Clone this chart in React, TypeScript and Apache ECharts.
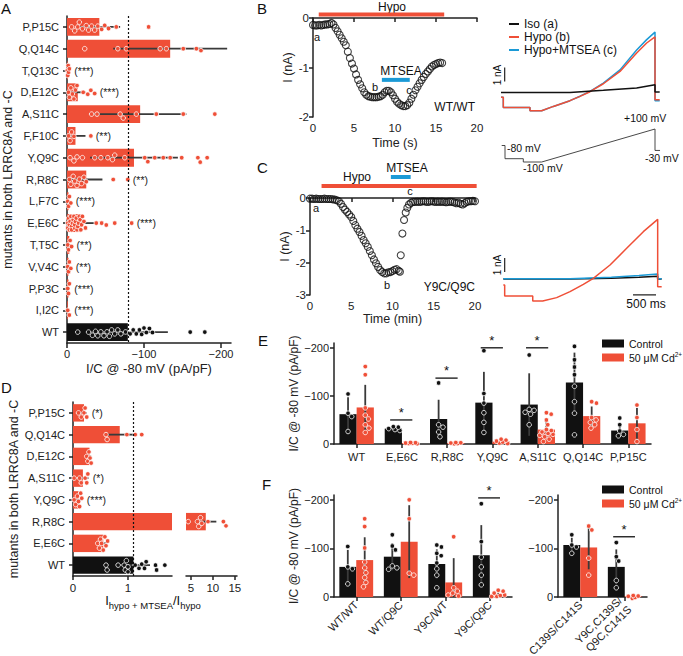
import React, { useEffect, useRef } from 'react';
import * as echarts from 'echarts';

const RED = '#ef4f37';
const BLUE = '#1b9ad6';
const BLACK = '#111111';
const AXIS = '#222222';
const ERR = '#3a3a3a';
const FONT = '"Liberation Sans", Arial, Helvetica, sans-serif';
const DOT_R = 2.3;
const DOT_D = 5;
const BAR_HALF = 0.19;

// ---------- Panel A (I/C magnitude, pA/pF) ----------
const catsA = ['P,P15C', 'Q,Q14C', 'T,Q13C', 'D,E12C', 'A,S11C', 'F,F10C', 'Y,Q9C', 'R,R8C', 'L,F7C', 'E,E6C', 'T,T5C', 'V,V4C', 'P,P3C', 'I,I2C', 'WT'];
const meanA = [42, 134, 1, 14, 95, 11, 87, 25, 2, 19, 3, 2, 2, 1, 79];
const sdA = [27, 74, 1, 10, 60, 13, 57, 21, 1, 19, 2, 1, 1, 1, 52];
const sigA = ['', '', '(***)', '(***)', '', '(**)', '', '(**)', '(***)', '(***)', '(**)', '(**)', '(***)', '(***)', ''];
const dotsA = [
  [6, 10, 14, 16, 20, 25, 28, 32, 36, 40, 45, 49, 54, 64, 106],
  [23, 66, 77, 121, 129, 151, 168, 174],
  [0.5, 1, 1.5, 2, 3],
  [2, 3, 5, 7, 9, 11, 13, 21, 27, 31, 36],
  [32, 39, 69, 73, 90, 116, 151, 192],
  [2, 4, 6, 9, 31],
  [4, 9, 13, 20, 36, 44, 53, 59, 62, 75, 101, 105, 114, 125, 134, 149, 170, 173, 182],
  [3, 5, 8, 10, 13, 16, 19, 22, 25, 60, 79],
  [1, 2, 3, 5],
  [1, 1, 2, 3, 3, 4, 5, 6, 6, 7, 8, 9, 10, 10, 11, 12, 13, 14, 15, 16, 17, 18, 19, 20, 22, 24, 38, 45, 51, 62, 84],
  [1, 2, 4, 6],
  [1, 2, 3, 5],
  [1, 2, 3],
  [1, 3],
  [14, 28, 33, 37, 40, 44, 48, 52, 55, 58, 62, 66, 70, 76, 82, 86, 90, 94, 97, 100, 103, 107, 111, 160, 179],
];

// ---------- Panel B (time s, current nA) ----------
const hypoB = [0.7, 16];
const mtseaB = [8.4, 11.8];
const curveB = [
  [0, -0.14], [0.25, -0.15], [0.5, -0.15], [0.75, -0.14], [1, -0.15], [1.25, -0.14], [1.5, -0.13], [1.75, -0.13],
  [2, -0.12], [2.25, -0.1], [2.5, -0.13], [2.75, -0.2], [3, -0.27], [3.25, -0.34], [3.5, -0.41], [3.75, -0.48],
  [4, -0.55], [4.25, -0.68], [4.5, -0.81], [4.75, -0.92], [5, -1.02], [5.25, -1.14], [5.5, -1.25], [5.75, -1.34],
  [6, -1.42], [6.25, -1.5], [6.5, -1.55], [6.75, -1.58], [7, -1.59], [7.25, -1.6], [7.5, -1.6], [7.75, -1.6],
  [8, -1.59], [8.25, -1.58], [8.5, -1.55], [8.75, -1.5], [9, -1.47], [9.25, -1.47], [9.5, -1.5], [9.75, -1.56],
  [10, -1.63], [10.25, -1.69], [10.5, -1.73], [10.75, -1.76], [11, -1.78], [11.25, -1.78], [11.5, -1.76], [11.75, -1.71],
  [12, -1.63], [12.25, -1.55], [12.5, -1.46], [12.75, -1.39], [13, -1.32], [13.25, -1.25], [13.5, -1.19], [13.75, -1.13],
  [14, -1.08], [14.25, -1.03], [14.5, -0.98], [14.75, -0.95], [15, -0.93], [15.25, -0.91], [15.5, -0.9], [15.75, -0.91],
];
// traces (ms, nA)
const traceBIso = [[0, -0.03], [1500, -0.03], [2225, 0.12], [2949, 0.28], [3348, 0.52], [3348, 0], [3450, 0]];
const traceBHypo = [[0, -0.38], [50, -0.38], [50, -1.1], [630, -1.1], [630, -1.34], [884, -1.34], [1138, -1.03], [1500, -0.62], [1717, -0.31], [1935, 0.02], [2225, 0.59], [2587, 1.47], [2949, 2.79], [3167, 3.5], [3348, 3.93], [3348, -0.55], [3450, -0.55]];
const traceBMtsea = [[0, -0.38], [50, -0.38], [50, -1.1], [630, -1.1], [630, -1.34], [884, -1.34], [1138, -1.03], [1500, -0.62], [1717, -0.3], [1935, 0.05], [2225, 0.64], [2587, 1.58], [2949, 3.0], [3167, 3.74], [3348, 4.28], [3348, -0.62], [3450, -0.62]];
// protocol (ms, mV)
const protocol = [[15, 0], [87, 0], [87, -80], [485, -80], [485, -100], [884, -100], [3348, 100], [3348, -30], [3457, -30]];

// ---------- Panel C (time min, current nA) ----------
const hypoC = [1.4, 20.2];
const mtseaC = [9.8, 12.2];
const curveC = [
  [0, -0.02], [0.25, -0.02], [0.5, -0.03], [0.75, -0.02], [1, -0.03], [1.25, -0.03], [1.5, -0.03], [1.75, -0.02],
  [2, -0.03], [2.25, -0.03], [2.5, -0.03], [2.75, -0.04], [3, -0.05], [3.25, -0.07], [3.5, -0.1], [3.75, -0.18],
  [4, -0.28], [4.25, -0.36], [4.5, -0.43], [4.75, -0.51], [5, -0.59], [5.25, -0.71], [5.5, -0.84], [5.75, -0.95],
  [6, -1.05], [6.25, -1.17], [6.5, -1.3], [6.75, -1.4], [7, -1.51], [7.25, -1.64], [7.5, -1.77], [7.75, -1.9],
  [8, -2.02], [8.25, -2.13], [8.5, -2.23], [8.75, -2.29], [9, -2.33], [9.25, -2.33], [9.5, -2.3], [9.75, -2.29],
  [10, -2.26], [10.25, -2.22], [10.5, -2.2], [10.75, -2.25], [10.9, -2.28], [11, -1.77], [11.2, -1.1], [11.4, -0.68],
  [11.6, -0.45], [11.8, -0.3], [12, -0.2], [12.25, -0.15], [12.5, -0.12], [12.75, -0.12], [13, -0.11], [13.25, -0.12],
  [13.5, -0.11], [13.75, -0.1], [14, -0.11], [14.25, -0.12], [14.5, -0.11], [14.75, -0.1], [15, -0.11], [15.25, -0.12],
  [15.5, -0.11], [15.75, -0.12], [16, -0.11], [16.25, -0.12], [16.5, -0.13], [16.75, -0.12], [17, -0.11], [17.25, -0.12],
  [17.5, -0.14], [17.75, -0.16], [18, -0.15], [18.25, -0.18], [18.5, -0.2], [18.75, -0.16], [19, -0.12], [19.25, -0.1],
  [19.5, -0.1], [19.75, -0.09], [20, -0.1],
];
const traceCIso = [[50, 0], [1500, 0], [2400, 0.05], [3000, 0.12], [3406, 0.19], [3406, 0], [3493, 0]];
const traceCMtsea = [[50, 0.02], [1500, 0.02], [2400, 0.12], [3000, 0.25], [3406, 0.36], [3406, 0.02], [3493, 0.02]];
const traceCHypo = [[50, -0.43], [80, -0.43], [80, -1.21], [690, -1.21], [690, -1.57], [906, -1.57], [1210, -1.33], [1500, -0.9], [1790, -0.38], [2007, 0.05], [2370, 1.0], [2732, 2.19], [3094, 3.38], [3406, 4.26], [3406, -0.55], [3493, -0.55]];

// ---------- Panel D (ratio) ----------
const catsD = ['P,P15C', 'Q,Q14C', 'D,E12C', 'A,S11C', 'Y,Q9C', 'R,R8C', 'E,E6C', 'WT'];
const meanD = [0.2, 0.85, 0.3, 0.18, 0.1, 8.4, 0.55, 1.1];
const sdD = [0.05, 0.28, 0.03, 0.1, 0.05, 2.4, 0.06, 0.3];
const sigD = ['(*)', '', '', '(*)', '(***)', '', '', ''];
const dotsD = [
  [0.1, 0.15, 0.2, 0.22, 0.25],
  [0.6, 0.62, 0.98, 1.13, 1.25],
  [0.25, 0.27, 0.29, 0.31, 0.33],
  [0.02, 0.12, 0.15, 0.22, 0.25, 0.27],
  [0.02, 0.05, 0.08, 0.1, 0.12, 0.14, 0.16],
  [4.4, 6.5, 6.8, 7.2, 7.5, 8.9, 12.4, 13],
  [0.45, 0.48, 0.5, 0.52, 0.55, 0.58, 0.6, 0.63],
  [0.6, 0.62, 0.82, 0.93, 0.95, 0.97, 1.0, 1.0, 1.13, 1.2, 1.25, 1.3, 1.33, 1.5, 1.52, 1.67],
];

// ---------- Panel E (I/C magnitude) ----------
const catsE = ['WT', 'E,E6C', 'R,R8C', 'Y,Q9C', 'A,S11C', 'Q,Q14C', 'P,P15C'];
const ctrlE = [62, 32, 52, 86, 82, 128, 28];
const ctrlSdE = [35, 4, 40, 64, 65, 62, 15];
const cdE = [76, 2, 2, 5, 30, 58, 43];
const cdSdE = [47, 1, 1, 3, 18, 20, 32];
const sigE = [null, 50, 137, 200, 200, null, null];
const ctrlDotsE = [
  [26, 57, 64, 104], [28, 30, 32, 35, 36], [15, 25, 35, 40, 127], [24, 45, 65, 85, 105, 194],
  [40, 62, 66, 70, 72, 185], [19, 64, 88, 120, 144, 160, 175, 203], [17, 20, 27, 40, 54],
];
const cdDotsE = [
  [24, 33, 40, 52, 60, 75, 144, 161], [0.5, 1, 1.5, 2, 2.5, 3], [0.5, 1, 2, 2.5, 3], [1, 2, 4, 6, 8, 10],
  [5, 10, 15, 18, 20, 22, 25, 28, 30, 40, 50, 62, 65], [33, 40, 45, 50, 55, 85, 88], [5, 30, 55, 81],
];

// ---------- Panel F ----------
const catsF1 = ['WT/WT', 'WT/Q9C', 'Y9C/WT', 'Y9C/Q9C'];
const ctrlF1 = [62, 83, 68, 86];
const ctrlSdF1 = [35, 28, 30, 62];
const cdF1 = [76, 114, 30, 5];
const cdSdF1 = [47, 75, 50, 4];
const sigF1 = [null, null, null, 204];
const ctrlDotsF1 = [[27, 58, 62, 104], [57, 60, 64, 97, 105, 128], [19, 45, 58, 70, 85, 90, 103, 107], [25, 45, 62, 82, 114, 192]];
const cdDotsF1 = [[21, 30, 40, 50, 60, 72, 101, 145, 161], [45, 49, 161, 200], [2, 4, 8, 12, 19, 124], [1, 3, 4, 6, 8, 12, 14]];

const catsF2 = ['C139S/C141S', 'Y9C,C139S/\nQ9C,C141S'];
const ctrlF2 = [107, 62];
const ctrlSdF2 = [15, 36];
const cdF2 = [102, 2];
const cdSdF2 = [45, 1];
const sigF2 = [null, 124];
const ctrlDotsF2 = [[90, 103, 107, 128], [19, 34, 74, 83, 112]];
const cdDotsF2 = [[45, 80, 138, 146], [0.5, 1, 1.5, 2, 3]];

const CTRL = 'Control';
const CD = '50 μM Cd²⁺';

// ---------- helpers ----------
function swarm(pos: number[], d: number, maxOff: number): number[] {
  const order = pos.map((_, k) => k).sort((a, b) => pos[a] - pos[b]);
  const offs = new Array(pos.length).fill(0);
  const placed: number[] = [];
  const minDist = (a: number, o: number) => {
    let m = Infinity;
    for (const j of placed) {
      const dd = Math.hypot(pos[j] - a, offs[j] - o);
      if (dd < m) m = dd;
    }
    return m;
  };
  for (const k of order) {
    const a = pos[k];
    const cands = [0];
    for (const j of placed) {
      const da = Math.abs(pos[j] - a);
      if (da < d) {
        const h = Math.sqrt(d * d - da * da);
        cands.push(offs[j] + h, offs[j] - h);
      }
    }
    cands.sort((x, y) => Math.abs(x) - Math.abs(y));
    let chosen: number | null = null;
    for (const c of cands) {
      if (Math.abs(c) > maxOff + 0.01) continue;
      if (minDist(a, c) >= d - 0.05) { chosen = c; break; }
    }
    if (chosen === null) {
      const tries = [0, maxOff, -maxOff, maxOff / 2, -maxOff / 2, maxOff / 4, -maxOff / 4, (3 * maxOff) / 4, (-3 * maxOff) / 4];
      let best = 0, bestD = -1;
      for (const c of tries) {
        const md = minDist(a, c);
        if (md > bestD) { bestD = md; best = c; }
      }
      chosen = best;
    }
    offs[k] = chosen;
    placed.push(k);
  }
  return offs;
}

function hErr(_p: any, api: any) {
  const m = api.value(0), i = api.value(1), s = api.value(2);
  const p1 = api.coord([Math.max(0, m - s), i]);
  const p2 = api.coord([m + s, i]);
  return { type: 'line', shape: { x1: p1[0], y1: p1[1], x2: p2[0], y2: p2[1] }, style: { stroke: ERR, lineWidth: 1.8 } };
}

function hSwarm(dots: number[][], sig: string[], fillFn: (i: number) => string) {
  return (_p: any, api: any) => {
    const i = api.value(1);
    const band = api.size([0, 1])[1];
    const cy = api.coord([api.value(0), i])[1];
    const xs = dots[i].map((v) => api.coord([v, i])[0]);
    const offs = swarm(xs, DOT_D, band * 0.4 - 2);
    const fill = fillFn(i);
    const children: any[] = xs.map((x, k) => ({
      type: 'circle',
      shape: { cx: x, cy: cy + offs[k], r: DOT_R },
      style: { fill, stroke: '#ffffff', lineWidth: 0.8 },
    }));
    if (sig[i]) {
      children.push({
        type: 'text', x: Math.max(...xs) + 5, y: cy,
        style: { text: sig[i], fill: '#222', fontSize: 10.5, fontFamily: FONT, align: 'left', verticalAlign: 'middle' },
      });
    }
    return { type: 'group', children };
  };
}

function vErr(side: number) {
  return (_p: any, api: any) => {
    const i = api.value(0), m = api.value(1), s = api.value(2);
    const band = api.size([1, 0])[0];
    const cx = api.coord([i, m])[0] + side * band * BAR_HALF;
    const y1 = api.coord([i, Math.max(0, m - s)])[1];
    const y2 = api.coord([i, m + s])[1];
    return { type: 'line', shape: { x1: cx, y1, x2: cx, y2 }, style: { stroke: ERR, lineWidth: 1.8 } };
  };
}

function vSwarm(dots: number[][], side: number, fill: string) {
  return (_p: any, api: any) => {
    const i = api.value(0);
    const band = api.size([1, 0])[0];
    const cx = api.coord([i, 0])[0] + side * band * BAR_HALF;
    const ys = dots[i].map((v) => api.coord([i, v])[1]);
    const offs = swarm(ys, DOT_D, band * BAR_HALF - 2);
    return {
      type: 'group',
      children: ys.map((y, k) => ({
        type: 'circle',
        shape: { cx: cx + offs[k], cy: y, r: DOT_R },
        style: { fill, stroke: '#ffffff', lineWidth: 0.8 },
      })),
    };
  };
}

function sigRender(_p: any, api: any) {
  const i = api.value(0), v = api.value(1);
  const band = api.size([1, 0])[0];
  const p = api.coord([i, v]);
  const x1 = p[0] - band * 0.26, x2 = p[0] + band * 0.23;
  return {
    type: 'group',
    children: [
      { type: 'line', shape: { x1, y1: p[1], x2, y2: p[1] }, style: { stroke: '#111', lineWidth: 1.3 } },
      { type: 'text', x: (x1 + x2) / 2, y: p[1] - 1, style: { text: '*', fill: '#111', fontSize: 13, fontFamily: FONT, align: 'center', verticalAlign: 'bottom' } },
    ],
  };
}

const axLine = { show: true, lineStyle: { color: AXIS, width: 1.5 } };
const axTick = { show: true, length: 4, lineStyle: { color: AXIS, width: 1.5 } };
const lbl = { color: AXIS, fontSize: 11, fontFamily: FONT };
const negFmt = (v: number) => (v === 0 ? '0' : '−' + v);
const hidden = { show: false };

function grid(left: number, top: number, width: number, height: number) {
  return { left, top, width, height, containLabel: false, outerBoundsMode: 'none', show: false };
}

function groupedSeries(
  xi: number, ctrl: number[], ctrlSd: number[], cd: number[], cdSd: number[],
  ctrlDots: number[][], cdDots: number[][], sig: (number | null)[],
) {
  const out: any[] = [
    { type: 'bar', name: CTRL, xAxisIndex: xi, yAxisIndex: xi, data: ctrl, barWidth: '38%', barGap: '0%', itemStyle: { color: BLACK }, z: 2 },
    { type: 'bar', name: CD, xAxisIndex: xi, yAxisIndex: xi, data: cd, barWidth: '38%', barGap: '0%', itemStyle: { color: RED }, z: 2 },
    { type: 'custom', xAxisIndex: xi, yAxisIndex: xi, data: ctrl.map((m, i) => [i, m, ctrlSd[i]]), encode: { x: 0, y: 1 }, renderItem: vErr(-1), z: 3 },
    { type: 'custom', xAxisIndex: xi, yAxisIndex: xi, data: cd.map((m, i) => [i, m, cdSd[i]]), encode: { x: 0, y: 1 }, renderItem: vErr(1), z: 3 },
    { type: 'custom', xAxisIndex: xi, yAxisIndex: xi, data: ctrl.map((m, i) => [i, m]), encode: { x: 0, y: 1 }, renderItem: vSwarm(ctrlDots, -1, BLACK), z: 4 },
    { type: 'custom', xAxisIndex: xi, yAxisIndex: xi, data: cd.map((m, i) => [i, m]), encode: { x: 0, y: 1 }, renderItem: vSwarm(cdDots, 1, RED), z: 4 },
  ];
  const sd = sig.map((v, i) => (v == null ? null : [i, v])).filter((x) => x != null);
  if (sd.length) out.push({ type: 'custom', xAxisIndex: xi, yAxisIndex: xi, data: sd, encode: { x: 0, y: 1 }, renderItem: sigRender, z: 5 });
  return out;
}

function txt(x: number, y: number, text: string, fontSize: number, align = 'left', vAlign = 'middle', extra: any = {}) {
  return { type: 'text', x, y, silent: true, ...extra, style: { text, fontSize, fontFamily: FONT, fill: '#111', align, verticalAlign: vAlign } };
}

function buildOption(): any {
  const grids = [
    grid(67, 16, 164, 327), // 0 A
    grid(313, 18, 164, 99), // 1 B
    grid(501, 22, 161, 105), // 2 B traces
    grid(501, 129, 161, 33), // 3 protocol
    grid(310, 198, 165, 97), // 4 C
    grid(501, 209, 161, 105), // 5 C traces
    grid(73, 402, 99, 174), // 6 D1
    grid(186, 402, 51, 174), // 7 D2
    grid(334, 343, 317, 101), // 8 E
    grid(334, 495, 178, 102), // 9 F1
    grid(558, 495, 89, 102), // 10 F2
  ];

  const xAxis: any[] = [
    { gridIndex: 0, type: 'value', min: 0, max: 213, interval: 100, axisLine: axLine, axisTick: { ...axTick, length: 5 }, splitLine: hidden,
      axisLabel: { ...lbl, formatter: negFmt, margin: 5 }, name: 'I/C @ -80 mV (pA/pF)', nameLocation: 'middle', nameGap: 19,
      nameTextStyle: { fontSize: 13, color: AXIS, fontFamily: FONT } },
    { gridIndex: 1, type: 'value', min: 0, max: 20, interval: 5, axisLine: axLine, axisTick: axTick, splitLine: hidden,
      axisLabel: { ...lbl, fontSize: 11.5, margin: 5 }, name: 'Time (s)', nameLocation: 'middle', nameGap: 19,
      nameTextStyle: { fontSize: 12.5, color: AXIS, fontFamily: FONT } },
    { gridIndex: 2, type: 'value', min: 0, max: 3500, show: false },
    { gridIndex: 3, type: 'value', min: 0, max: 3500, show: false },
    { gridIndex: 4, type: 'value', min: 0, max: 20, interval: 5, axisLine: axLine, axisTick: axTick, splitLine: hidden,
      axisLabel: { ...lbl, fontSize: 11.5, margin: 5 }, name: 'Time (min)', nameLocation: 'middle', nameGap: 17,
      nameTextStyle: { fontSize: 12.5, color: AXIS, fontFamily: FONT } },
    { gridIndex: 5, type: 'value', min: 0, max: 3500, show: false },
    { gridIndex: 6, type: 'value', min: 0, max: 1.8, axisLine: axLine, splitLine: hidden,
      axisTick: { ...axTick, customValues: [0, 1] }, axisLabel: { ...lbl, fontSize: 11.5, customValues: [0, 1], margin: 6 } },
    { gridIndex: 7, type: 'value', min: 3.9, max: 15.5, axisLine: axLine, splitLine: hidden,
      axisTick: { ...axTick, customValues: [5, 10, 15] }, axisLabel: { ...lbl, fontSize: 11.5, customValues: [5, 10, 15], margin: 6 } },
    { gridIndex: 8, type: 'category', data: catsE, axisLine: axLine, axisTick: { ...axTick, alignWithLabel: true },
      axisLabel: { ...lbl, interval: 0, margin: 7 } },
    { gridIndex: 9, type: 'category', data: catsF1, axisLine: axLine, axisTick: { ...axTick, alignWithLabel: true },
      axisLabel: { ...lbl, interval: 0, rotate: 45, margin: 6 } },
    { gridIndex: 10, type: 'category', data: catsF2, axisLine: axLine, axisTick: { ...axTick, alignWithLabel: true },
      axisLabel: { ...lbl, interval: 0, rotate: 45, margin: 6, lineHeight: 13 } },
  ];

  const magY = (gi: number, withName: boolean) => ({
    gridIndex: gi, type: 'value', min: 0, max: 210, interval: 100, axisLine: axLine, axisTick: axTick, splitLine: hidden,
    axisLabel: { ...lbl, formatter: negFmt, margin: 5 },
    ...(withName ? { name: 'I/C @ -80 mV (pA/pF)', nameLocation: 'middle', nameGap: 29, nameRotate: 90,
      nameTextStyle: { fontSize: 12, color: AXIS, fontFamily: FONT } } : {}),
  });

  const yAxis: any[] = [
    { gridIndex: 0, type: 'category', data: catsA, inverse: true, axisLine: axLine, axisTick: { ...axTick, alignWithLabel: true },
      axisLabel: { ...lbl, margin: 8 }, name: 'mutants in both LRRC8A and -C', nameLocation: 'middle', nameGap: 50, nameRotate: 90,
      nameTextStyle: { fontSize: 12.5, color: AXIS, fontFamily: FONT } },
    { gridIndex: 1, type: 'value', min: -2, max: 0, interval: 1, axisLine: axLine, axisTick: axTick, splitLine: hidden,
      axisLabel: { ...lbl, fontSize: 11.5, margin: 4 }, name: 'I (nA)', nameLocation: 'middle', nameGap: 19, nameRotate: 90,
      nameTextStyle: { fontSize: 12.5, color: AXIS, fontFamily: FONT } },
    { gridIndex: 2, type: 'value', min: -2.5, max: 5, show: false, splitLine: hidden },
    { gridIndex: 3, type: 'value', min: -100, max: 100, show: false, splitLine: hidden },
    { gridIndex: 4, type: 'value', min: -3, max: 0, interval: 1, axisLine: axLine, axisTick: axTick, splitLine: hidden,
      axisLabel: { ...lbl, fontSize: 11.5, margin: 4 }, name: 'I (nA)', nameLocation: 'middle', nameGap: 16, nameRotate: 90,
      nameTextStyle: { fontSize: 12.5, color: AXIS, fontFamily: FONT } },
    { gridIndex: 5, type: 'value', min: -2.5, max: 5, show: false, splitLine: hidden },
    { gridIndex: 6, type: 'category', data: catsD, inverse: true, axisLine: axLine, axisTick: { ...axTick, alignWithLabel: true },
      axisLabel: { ...lbl, margin: 8 }, name: 'mutants in both LRRC8A and -C', nameLocation: 'middle', nameGap: 50, nameRotate: 90,
      nameTextStyle: { fontSize: 12.5, color: AXIS, fontFamily: FONT } },
    { gridIndex: 7, type: 'category', data: catsD, inverse: true, show: false },
    magY(8, true),
    magY(9, true),
    magY(10, false),
  ];

  const lineSeg = (xi: number, data: number[][], color: string, width: number, name?: string, z = 2) => ({
    type: 'line', name, xAxisIndex: xi, yAxisIndex: xi, data, symbol: 'none', showSymbol: false, clip: false, silent: true,
    lineStyle: { color, width }, itemStyle: { color }, z,
  });

  const openCircles = (xi: number, data: number[][]) => ({
    type: 'scatter', xAxisIndex: xi, yAxisIndex: xi, data, symbol: 'circle', symbolSize: 7, silent: true,
    itemStyle: { color: 'rgba(255,255,255,0)', borderColor: '#111', borderWidth: 1.1 }, z: 3,
  });

  const rD = catsD.indexOf('R,R8C');
  const wtA = catsA.indexOf('WT');
  const wtD = catsD.indexOf('WT');

  const series: any[] = [
    // ---- A ----
    { type: 'bar', xAxisIndex: 0, yAxisIndex: 0, barWidth: '82%', z: 2,
      data: meanA.map((v, i) => ({ value: v, itemStyle: { color: catsA[i] === 'WT' ? BLACK : RED } })),
      markLine: { symbol: ['none', 'none'], silent: true, label: { show: false }, lineStyle: { color: '#111', type: [2, 2], width: 1.2 },
        data: [{ xAxis: meanA[wtA] }] } },
    { type: 'custom', xAxisIndex: 0, yAxisIndex: 0, encode: { x: 0, y: 1 }, data: meanA.map((m, i) => [m, i, sdA[i]]), renderItem: hErr, z: 3 },
    { type: 'custom', xAxisIndex: 0, yAxisIndex: 0, encode: { x: 0, y: 1 }, data: meanA.map((m, i) => [m, i]),
      renderItem: hSwarm(dotsA, sigA, (i) => (catsA[i] === 'WT' ? BLACK : RED)), z: 4 },

    // ---- B ----
    lineSeg(1, [[hypoB[0], 0.07], [hypoB[1], 0.07]], RED, 4),
    lineSeg(1, [[mtseaB[0], -1.25], [mtseaB[1], -1.25]], BLUE, 4),
    openCircles(1, curveB),
    lineSeg(2, traceBMtsea, BLUE, 1.5, 'Hypo+MTSEA (c)'),
    lineSeg(2, traceBHypo, RED, 1.5, 'Hypo (b)'),
    lineSeg(2, traceBIso, BLACK, 1.5, 'Iso (a)'),
    lineSeg(2, [[80, 0.75], [80, 1.75]], '#222', 1.2),
    lineSeg(3, protocol, '#333', 0.9),

    // ---- C ----
    lineSeg(4, [[hypoC[0], 0.37], [hypoC[1], 0.37]], RED, 4),
    lineSeg(4, [[mtseaC[0], 0.65], [mtseaC[1], 0.65]], BLUE, 4),
    openCircles(4, curveC),
    lineSeg(5, traceCIso, BLACK, 1.5, 'Iso C'),
    lineSeg(5, traceCMtsea, BLUE, 1.6, 'MTSEA C'),
    lineSeg(5, traceCHypo, RED, 1.5, 'Hypo C'),
    lineSeg(5, [[80, 0.5], [80, 1.5]], '#222', 1.2),
    lineSeg(5, [[2870, -1.14], [3370, -1.14]], '#222', 1.2),

    // ---- D (left segment) ----
    { type: 'bar', xAxisIndex: 6, yAxisIndex: 6, barWidth: '80%', clip: true, z: 2,
      data: meanD.map((v, i) => ({ value: v, itemStyle: { color: catsD[i] === 'WT' ? BLACK : RED } })),
      markLine: { symbol: ['none', 'none'], silent: true, label: { show: false }, lineStyle: { color: '#111', type: [2, 2], width: 1.2 },
        data: [{ xAxis: meanD[wtD] }] } },
    { type: 'custom', xAxisIndex: 6, yAxisIndex: 6, encode: { x: 0, y: 1 },
      data: meanD.map((m, i) => [m, i, sdD[i]]).filter((_, i) => i !== rD), renderItem: hErr, z: 3 },
    { type: 'custom', xAxisIndex: 6, yAxisIndex: 6, encode: { x: 0, y: 1 },
      data: meanD.map((m, i) => [m, i]).filter((_, i) => i !== rD),
      renderItem: hSwarm(dotsD, sigD, (i) => (catsD[i] === 'WT' ? BLACK : RED)), z: 4 },
    // ---- D (right segment) ----
    { type: 'bar', xAxisIndex: 7, yAxisIndex: 7, barWidth: '80%', clip: true, z: 2,
      data: meanD.map((v, i) => (i === rD ? { value: v, itemStyle: { color: RED } } : '-')) },
    { type: 'custom', xAxisIndex: 7, yAxisIndex: 7, encode: { x: 0, y: 1 }, data: [[meanD[rD], rD, sdD[rD]]], renderItem: hErr, z: 3 },
    { type: 'custom', xAxisIndex: 7, yAxisIndex: 7, encode: { x: 0, y: 1 }, data: [[meanD[rD], rD]],
      renderItem: hSwarm(dotsD, sigD, () => RED), z: 4 },

    // ---- E, F ----
    ...groupedSeries(8, ctrlE, ctrlSdE, cdE, cdSdE, ctrlDotsE, cdDotsE, sigE),
    ...groupedSeries(9, ctrlF1, ctrlSdF1, cdF1, cdSdF1, ctrlDotsF1, cdDotsF1, sigF1),
    ...groupedSeries(10, ctrlF2, ctrlSdF2, cdF2, cdSdF2, ctrlDotsF2, cdDotsF2, sigF2),
  ];

  const legendText = { fontSize: 12, fontFamily: FONT, color: '#111' };
  const cdLegendText = {
    fontSize: 10.5, fontFamily: FONT, color: '#111',
    rich: {
      n: { fontSize: 10.5, fontFamily: FONT, color: '#111' },
      sup: { fontSize: 6.5, fontFamily: FONT, color: '#111', padding: [0, 0, 6, 0] },
    },
  };
  const cdFmt = (name: string) => (name === CD ? '{n|50 μM Cd}{sup|2+}' : '{n|' + name + '}');
  const legend = [
    { data: ['Iso (a)', 'Hypo (b)', 'Hypo+MTSEA (c)'], left: 509, top: 18, orient: 'vertical', icon: 'rect', itemWidth: 10, itemHeight: 2,
      itemGap: 1, selectedMode: false, textStyle: legendText, padding: 0 },
    { data: [CTRL, CD], left: 602, top: 338, orient: 'vertical', icon: 'rect', itemWidth: 22, itemHeight: 8, itemGap: 2,
      selectedMode: false, textStyle: cdLegendText, formatter: cdFmt, padding: 0 },
    { data: [CTRL, CD], left: 602, top: 484, orient: 'vertical', icon: 'rect', itemWidth: 22, itemHeight: 8, itemGap: 2,
      selectedMode: false, textStyle: cdLegendText, formatter: cdFmt, padding: 0 },
  ];

  const graphic: any[] = [
    txt(1, 1, 'A', 15, 'left', 'top'),
    txt(257, 1, 'B', 15, 'left', 'top'),
    txt(257, 160, 'C', 15, 'left', 'top'),
    txt(1, 380, 'D', 15, 'left', 'top'),
    txt(258, 333, 'E', 15, 'left', 'top'),
    txt(262, 477, 'F', 15, 'left', 'top'),
    txt(392, 7, 'Hypo', 12, 'center'),
    txt(401, 71, 'MTSEA', 12, 'center'),
    txt(317, 37, 'a', 11, 'center'),
    txt(375, 87, 'b', 11, 'center'),
    txt(409, 90, 'c', 11, 'center'),
    txt(475, 107, 'WT/WT', 12, 'right'),
    txt(357, 177, 'Hypo', 12, 'center'),
    txt(407, 168, 'MTSEA', 12, 'center'),
    txt(316, 208, 'a', 11, 'center'),
    txt(387, 285, 'b', 11, 'center'),
    txt(410, 191, 'c', 11, 'center'),
    txt(475, 287, 'Y9C/Q9C', 12, 'right'),
    txt(624, 118, '+100 mV', 10.5, 'left'),
    txt(507, 148, '-80 mV', 10.5, 'left'),
    txt(523, 168, '-100 mV', 10.5, 'left'),
    txt(645, 158, '-30 mV', 10.5, 'left'),
    txt(497, 75, '1 nA', 10, 'center', 'middle', { rotation: Math.PI / 2 }),
    txt(497, 265, '1 nA', 10, 'center', 'middle', { rotation: Math.PI / 2 }),
    txt(646, 304, '500 ms', 12, 'center'),
    {
      type: 'text', x: 153, y: 594, silent: true,
      style: {
        text: '{a|I}{s|hypo + MTSEA}{a|/I}{s|hypo}', align: 'center', verticalAlign: 'top', fill: '#111',
        rich: {
          a: { fontSize: 13, fontFamily: FONT, fill: '#111', verticalAlign: 'top', lineHeight: 15 },
          s: { fontSize: 9.5, fontFamily: FONT, fill: '#111', verticalAlign: 'top', lineHeight: 15, padding: [6, 0, 0, 0] },
        },
      },
    },
  ];

  return {
    animation: false,
    backgroundColor: '#ffffff',
    textStyle: { fontFamily: FONT },
    grid: grids,
    xAxis,
    yAxis,
    legend,
    graphic,
    series,
  };
}

export default function App() {
  const ref = useRef<HTMLDivElement>(null);
  useEffect(() => {
    const chart = echarts.init(ref.current as HTMLDivElement, null, { renderer: 'svg' });
    chart.setOption(buildOption());
    return () => chart.dispose();
  }, []);
  return <div ref={ref} style={{ position: 'absolute', left: 0, top: 0, width: 683, height: 656 }} />;
}
